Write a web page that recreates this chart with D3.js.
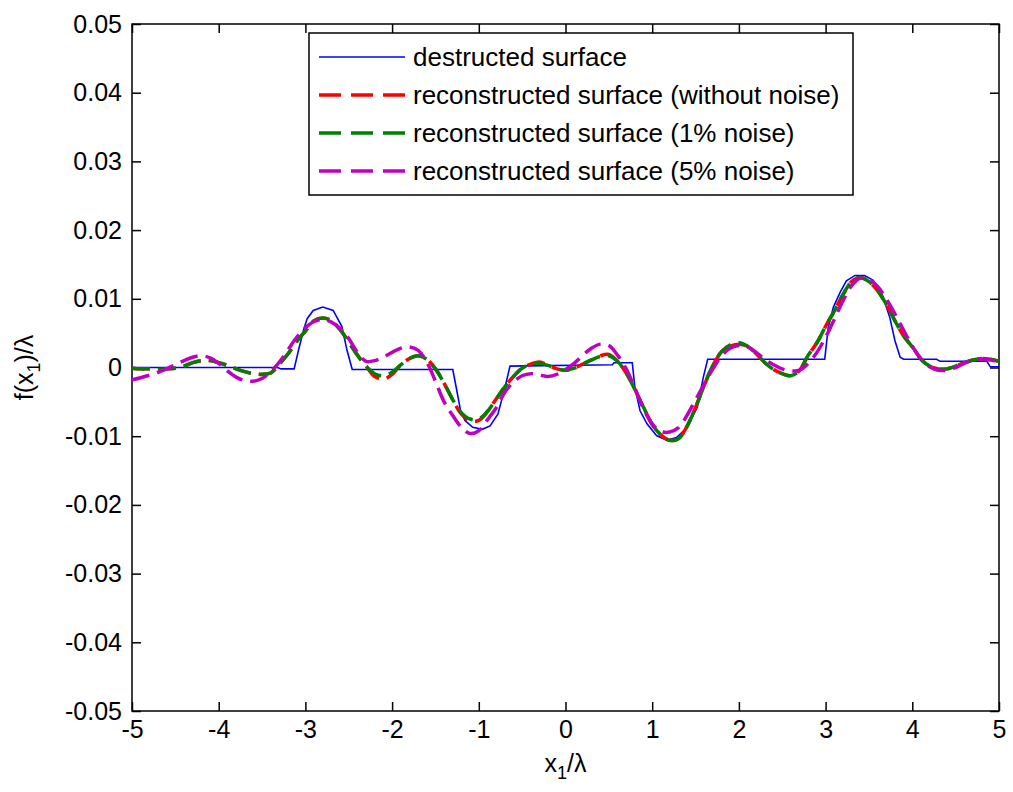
<!DOCTYPE html>
<html>
<head>
<meta charset="utf-8">
<script src="https://cdn.jsdelivr.net/npm/d3@7"></script>
<style>
  body { margin: 0; background: #fff; }
  text { font-family: "Liberation Sans", Arial, sans-serif; fill: #000; }
</style>
</head>
<body>
<svg id="chart" width="1013" height="792"></svg>
<script>
// tick values / labels
const xTicks = [-5, -4, -3, -2, -1, 0, 1, 2, 3, 4, 5]
const xTickLabels = ['-5', '-4', '-3', '-2', '-1', '0', '1', '2', '3', '4', '5']
const yTicks = [-0.05, -0.04, -0.03, -0.02, -0.01, 0, 0.01, 0.02, 0.03, 0.04, 0.05]
const yTickLabels = ['-0.05', '-0.04', '-0.03', '-0.02', '-0.01', '0', '0.01', '0.02', '0.03', '0.04', '0.05']

// destructed surface
const blueX = [-5, -3.32, -3.28, -3.13, -3.08, -3.02, -2.98, -2.91, -2.80, -2.68, -2.58, -2.52, -2.46,
  -1.30, -1.25, -1.21, -1.16, -1.07, -0.96, -0.87, -0.78, -0.70, -0.64,
  0.54, 0.56, 0.77, 0.80, 0.86, 0.94, 1.05, 1.17, 1.28, 1.40, 1.52, 1.59, 1.64,
  2.99, 3.03, 3.09, 3.17, 3.24, 3.34, 3.45, 3.55, 3.65, 3.74, 3.80, 3.86, 3.90,
  4.28, 4.32, 4.86, 4.90, 5]
const blueY = [0, 0, -0.0002, -0.0002, 0.0025, 0.0055, 0.0071, 0.0083, 0.0088, 0.0083, 0.0060, 0.0025, -0.0003,
  -0.0003, -0.0036, -0.0063, -0.0077, -0.0087, -0.0090, -0.0085, -0.0068, -0.0030, 0.0002,
  0.0004, 0.0007, 0.0007, -0.0029, -0.0063, -0.0082, -0.0099, -0.0106, -0.0102, -0.0088, -0.0058, -0.0014, 0.0012,
  0.0012, 0.0058, 0.0088, 0.0110, 0.0126, 0.0134, 0.0134, 0.0127, 0.0107, 0.0073, 0.0039, 0.0015, 0.0012,
  0.0012, 0.0009, 0.0009, 0.0001, 0.0001]

// reconstructed surfaces, sampled at these x positions
const reconX = [-5.0, -4.9, -4.8, -4.7, -4.6, -4.5, -4.4, -4.3, -4.2, -4.1,
  -4.0, -3.9, -3.8, -3.7, -3.6, -3.5, -3.4, -3.3, -3.2, -3.1,
  -3.0, -2.9, -2.8, -2.7, -2.6, -2.5, -2.4, -2.3, -2.2, -2.1,
  -2.0, -1.9, -1.8, -1.7, -1.6, -1.5, -1.4, -1.3, -1.2, -1.1,
  -1.0, -0.9, -0.8, -0.7, -0.6, -0.5, -0.4, -0.3, -0.2, -0.1,
  0.0, 0.1, 0.2, 0.3, 0.4, 0.5, 0.6, 0.7, 0.8, 0.9,
  1.0, 1.1, 1.2, 1.3, 1.4, 1.5, 1.6, 1.7, 1.8, 1.9,
  2.0, 2.1, 2.2, 2.3, 2.4, 2.5, 2.6, 2.7, 2.8, 2.9,
  3.0, 3.1, 3.2, 3.3, 3.4, 3.5, 3.6, 3.7, 3.8, 3.9,
  4.0, 4.1, 4.2, 4.3, 4.4, 4.5, 4.6, 4.7, 4.8, 4.9, 5.0]

const noNoise = [-0.0001, -0.0002, -0.0002, -0.0003, -0.0002, -0.0001, 0.0002, 0.0007, 0.0010, 0.0010,
  0.0007, 0.0003, -0.0002, -0.0006, -0.0009, -0.0010, -0.0008, 0.0005, 0.0020, 0.0038,
  0.0053, 0.0068, 0.0072, 0.0068, 0.0055, 0.0037, 0.0018, 0.0002, -0.0013, -0.0017,
  -0.0010, 0.0004, 0.0013, 0.0017, 0.0012, -0.0002, -0.0023, -0.0047, -0.0068, -0.0078,
  -0.0077, -0.0064, -0.0046, -0.0028, -0.0013, -0.0001, 0.0005, 0.0008, 0.0003, -0.0002,
  -0.0004, -0.0001, 0.0005, 0.0011, 0.0017, 0.0019, 0.0009, -0.0008, -0.0032, -0.0058,
  -0.0083, -0.0098, -0.0106, -0.0104, -0.0086, -0.0058, -0.0026, 0.0003, 0.0023, 0.0031,
  0.0034, 0.0031, 0.0020, 0.0007, -0.0003, -0.0009, -0.0012, -0.0004, 0.0018, 0.0036,
  0.0060, 0.0082, 0.0106, 0.0125, 0.0131, 0.0125, 0.0112, 0.0092, 0.0068, 0.0046,
  0.0030, 0.0012, 0.0002, -0.0002, -0.0002, 0.0002, 0.0007, 0.0011, 0.0013, 0.0012, 0.0009]

const noise1 = [-0.0001, -0.0002, -0.0002, -0.0003, -0.0002, -0.0001, 0.0002, 0.0007, 0.0010, 0.0010,
  0.0007, 0.0003, -0.0002, -0.0006, -0.0009, -0.0010, -0.0008, 0.0005, 0.0020, 0.0038,
  0.0053, 0.0068, 0.0072, 0.0068, 0.0055, 0.0037, 0.0018, 0.0002, -0.0009, -0.0012,
  -0.0007, 0.0004, 0.0013, 0.0017, 0.0012, -0.0002, -0.0023, -0.0047, -0.0066, -0.0075,
  -0.0075, -0.0064, -0.0046, -0.0028, -0.0013, -0.0001, 0.0005, 0.0006, 0.0003, -0.0002,
  -0.0004, -0.0001, 0.0005, 0.0011, 0.0016, 0.0017, 0.0009, -0.0008, -0.0032, -0.0058,
  -0.0083, -0.0098, -0.0106, -0.0104, -0.0086, -0.0058, -0.0026, 0.0003, 0.0023, 0.0033,
  0.0036, 0.0031, 0.0020, 0.0007, -0.0003, -0.0009, -0.0012, -0.0004, 0.0018, 0.0036,
  0.0060, 0.0082, 0.0106, 0.0125, 0.0131, 0.0125, 0.0112, 0.0092, 0.0068, 0.0046,
  0.0030, 0.0012, 0.0002, -0.0002, -0.0002, 0.0002, 0.0007, 0.0011, 0.0013, 0.0012, 0.0009]

const noise5 = [-0.0018, -0.0015, -0.0011, -0.0007, -0.0002, 0.0004, 0.0010, 0.0015, 0.0017, 0.0014,
  0.0006, -0.0005, -0.0014, -0.0019, -0.0020, -0.0016, -0.0006, 0.0008, 0.0026, 0.0044,
  0.0058, 0.0067, 0.0070, 0.0066, 0.0057, 0.0042, 0.0022, 0.0009, 0.0010, 0.0015,
  0.0022, 0.0028, 0.0030, 0.0025, 0.0008, -0.0020, -0.0050, -0.0070, -0.0087, -0.0096,
  -0.0092, -0.0076, -0.0059, -0.0036, -0.0021, -0.0012, -0.0009, -0.0011, -0.0013, -0.0010,
  -0.0003, 0.0006, 0.0018, 0.0028, 0.0034, 0.0032, 0.0018, -0.0002, -0.0030, -0.0060,
  -0.0082, -0.0093, -0.0094, -0.0088, -0.0070, -0.0047, -0.0024, -0.0002, 0.0017, 0.0028,
  0.0032, 0.0030, 0.0022, 0.0012, 0.0004, -0.0002, -0.0005, -0.0004, 0.0006, 0.0022,
  0.0044, 0.0070, 0.0097, 0.0119, 0.0130, 0.0128, 0.0118, 0.0100, 0.0078, 0.0054,
  0.0031, 0.0013, 0.0001, -0.0004, -0.0004, 0.0000, 0.0006, 0.0011, 0.0012, 0.0011, 0.0008]

const seriesNames = ['destructed surface', 'reconstructed surface (without noise)',
  'reconstructed surface (1% noise)', 'reconstructed surface (5% noise)']

const margin = { top: 24, right: 14, bottom: 81, left: 132 }
const width = 1013 - margin.left - margin.right
const height = 792 - margin.top - margin.bottom

const svg = d3.select('#chart')
const g = svg.append('g').attr('transform', `translate(${margin.left},${margin.top})`)

const x = d3.scaleLinear().domain([-5, 5]).range([0, width])
const y = d3.scaleLinear().domain([-0.05, 0.05]).range([height, 0])

// axes, matlab style: ticks pointing inward on all four sides
const fontSize = 25
const axisBottomG = g.append('g')
  .attr('transform', `translate(0,${height})`)
  .call(d3.axisBottom(x).tickValues(xTicks).tickSizeInner(-9).tickSizeOuter(0).tickPadding(9)
    .tickFormat((d, i) => xTickLabels[i]))
const axisLeftG = g.append('g')
  .call(d3.axisLeft(y).tickValues(yTicks).tickSizeInner(-9).tickSizeOuter(0).tickPadding(10)
    .tickFormat((d, i) => yTickLabels[i]))
const axisTopG = g.append('g')
  .call(d3.axisTop(x).tickValues(xTicks).tickSizeInner(-9).tickSizeOuter(0).tickFormat(''))
const axisRightG = g.append('g')
  .attr('transform', `translate(${width},0)`)
  .call(d3.axisRight(y).tickValues(yTicks).tickSizeInner(-9).tickSizeOuter(0).tickFormat(''))

;[axisBottomG, axisLeftG, axisTopG, axisRightG].forEach(a => {
  a.select('.domain').remove()
  a.selectAll('line').attr('stroke', '#000').attr('stroke-width', 1.5)
  a.selectAll('text').style('font-size', `${fontSize}px`).attr('fill', '#000')
    .style('font-family', '"Liberation Sans", Arial, sans-serif')
})

g.append('rect')
  .attr('width', width).attr('height', height)
  .attr('fill', 'none').attr('stroke', '#000').attr('stroke-width', 1.5)

// curves
const clip = g.append('clipPath').attr('id', 'plotclip')
clip.append('rect').attr('width', width).attr('height', height)
const plot = g.append('g').attr('clip-path', 'url(#plotclip)')

const blueLine = d3.line().x(i => x(blueX[i])).y(i => y(blueY[i]))
const reconLine = vals => d3.line().curve(d3.curveCatmullRom)
  .x(i => x(reconX[i])).y(i => y(vals[i]))

plot.append('path')
  .attr('d', blueLine(d3.range(blueX.length)))
  .attr('fill', 'none').attr('stroke', '#0000ff').attr('stroke-width', 1.6)

const recon = [
  { vals: noNoise, color: '#ff0000' },
  { vals: noise1, color: '#008000' },
  { vals: noise5, color: '#bf00bf' }
]
recon.forEach(s => {
  plot.append('path')
    .attr('d', reconLine(s.vals)(d3.range(reconX.length)))
    .attr('fill', 'none').attr('stroke', s.color).attr('stroke-width', 3.5)
    .attr('stroke-dasharray', '18,8')
})

// legend
const legend = svg.append('g')
legend.append('rect')
  .attr('x', 309).attr('y', 33).attr('width', 544).attr('height', 162)
  .attr('fill', '#fff').attr('stroke', '#000').attr('stroke-width', 1.5)
const legendColors = ['#0000ff', '#ff0000', '#008000', '#bf00bf']
seriesNames.forEach((name, i) => {
  const ly = 57 + i * 38
  legend.append('line')
    .attr('x1', 319).attr('x2', 405).attr('y1', ly).attr('y2', ly)
    .attr('stroke', legendColors[i])
    .attr('stroke-width', i === 0 ? 1.6 : 3.5)
    .attr('stroke-dasharray', i === 0 ? null : '22,10')
  legend.append('text')
    .attr('x', 413).attr('y', ly).attr('dy', '0.35em')
    .style('font-size', '26px')
    .text(name)
})

// axis titles
const xTitle = svg.append('text')
  .attr('x', margin.left + width / 2).attr('y', 772)
  .attr('text-anchor', 'middle').style('font-size', `${fontSize}px`)
xTitle.append('tspan').text('x')
xTitle.append('tspan').attr('dy', 7).style('font-size', '18px').text('1')
xTitle.append('tspan').attr('dy', -7).text('/λ')

const yTitle = svg.append('text')
  .attr('transform', `translate(33,${margin.top + height / 2}) rotate(-90)`)
  .attr('text-anchor', 'middle').style('font-size', `${fontSize}px`)
yTitle.append('tspan').text('f(x')
yTitle.append('tspan').attr('dy', 7).style('font-size', '18px').text('1')
yTitle.append('tspan').attr('dy', -7).text(')/λ')
</script>
</body>
</html>
